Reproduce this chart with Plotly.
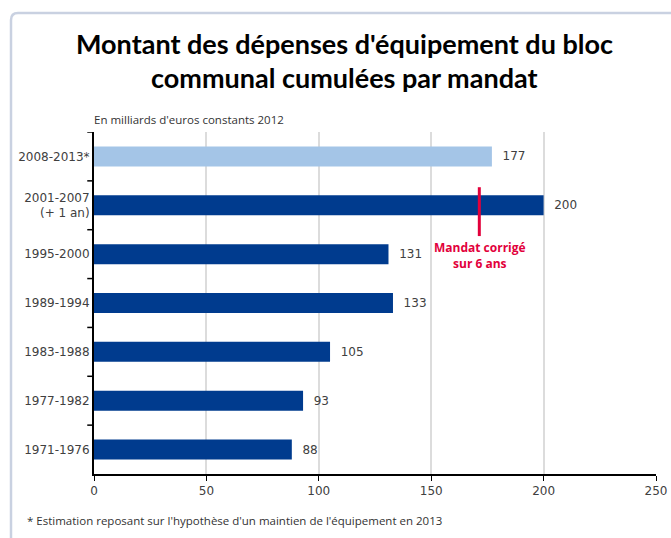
import plotly.graph_objects as go

categories = ["1971-1976", "1977-1982", "1983-1988", "1989-1994", "1995-2000",
              "2001-2007<br>(+ 1 an)", "2008-2013*"]
values = [88, 93, 105, 133, 131, 200, 177]
bar_colors = ["#003b8e", "#003b8e", "#003b8e", "#003b8e", "#003b8e", "#003b8e", "#a4c5e7"]
corrected_value = 171.4  # mandat corrigé sur 6 ans
x_ticks = [0, 50, 100, 150, 200, 250]

title_lines = ["Montant des dépenses d'équipement du bloc", "communal cumulées par mandat"]
subtitle = "En milliards d'euros constants 2012"
footnote = "* Estimation reposant sur l'hypothèse d'un maintien de l'équipement en 2013"
marker_label = "Mandat corrigé<br>sur 6 ans"

W, H = 671, 538
L, R, T, B = 94, 15, 132, 64
pw, ph = W - L - R, H - T - B

def px(x):
    return (x - L) / pw

def py(y):
    return (H - B - y) / ph

fig = go.Figure()
fig.add_trace(go.Bar(
    x=values, y=list(range(len(categories))), orientation="h",
    marker=dict(color=bar_colors, line=dict(width=0)),
    width=0.41,
    text=["  " + str(v) for v in values], textposition="outside",
    textfont=dict(family="DejaVu Sans", size=12, color="#404040"),
    cliponaxis=False, hoverinfo="skip",
))

font_main = "Open Sans, DejaVu Sans, sans-serif"
title_font = "Lato, Roboto, sans-serif"

r = 7
path = (f"M {px(11)},{py(H + 20)} L {px(11)},{py(13 + r)} "
        f"Q {px(11)},{py(13)} {px(11 + r)},{py(13)} L {px(W + 20)},{py(13)}")

fig.update_layout(
    width=W, height=H, autosize=False,
    margin=dict(l=L, r=R, t=T, b=B),
    paper_bgcolor="white", plot_bgcolor="white",
    showlegend=False,
    xaxis=dict(range=[0, 250], tickvals=x_ticks, showgrid=True, gridcolor="#dcdcdc", gridwidth=1.5,
               showline=True, linecolor="#000000", linewidth=2, zeroline=False, automargin=False,
               ticks="outside", ticklen=5, tickcolor="#000000", tickwidth=1,
               tickfont=dict(family="DejaVu Sans", size=12, color="#404040"), fixedrange=True),
    yaxis=dict(range=[-0.5, 6.5], tickvals=list(range(len(categories))), ticktext=categories,
               showgrid=False, showline=True, linecolor="#000000", linewidth=2,
               ticks="", zeroline=False, automargin=False,
               tickfont=dict(family="DejaVu Sans", size=12, color="#404040"), fixedrange=True),
    shapes=[
        dict(type="path", xref="paper", yref="paper", path=path,
             line=dict(color="#c9d1e1", width=2.5), layer="below"),
        dict(type="line", xref="x", yref="y", x0=corrected_value, x1=corrected_value,
             y0=5 - 0.63, y1=5 + 0.37, line=dict(color="#e2003b", width=3)),
    ] + [
        dict(type="line", xref="paper", yref="y", x0=-0.012, x1=0, y0=i - 0.5, y1=i - 0.5,
             line=dict(color="#000000", width=1.5))
        for i in range(1, len(categories) + 1)
    ],
    annotations=[
        dict(text=f"<b>{title_lines[0]}</b>", xref="paper", yref="paper", x=px(344), y=py(43.5),
             xanchor="center", yanchor="middle", showarrow=False,
             font=dict(family=title_font, size=27, color="#000000")),
        dict(text=f"<b>{title_lines[1]}</b>", xref="paper", yref="paper", x=px(344), y=py(77.5),
             xanchor="center", yanchor="middle", showarrow=False,
             font=dict(family=title_font, size=27, color="#000000")),
        dict(text=subtitle, xref="paper", yref="paper", x=px(92), y=py(119),
             xanchor="left", yanchor="middle", showarrow=False,
             font=dict(family=font_main, size=11.5, color="#333333")),
        dict(text=footnote, xref="paper", yref="paper", x=px(25), y=py(520),
             xanchor="left", yanchor="middle", showarrow=False,
             font=dict(family=font_main, size=11.5, color="#333333")),
        dict(text=f"<b>{marker_label}</b>", xref="x", yref="y", x=corrected_value + 0.5, y=3.98,
             xanchor="center", yanchor="middle", showarrow=False,
             font=dict(family=font_main, size=12, color="#e2003b")),
    ],
)

pre = "document.body.style.margin='0';document.body.style.overflow='hidden';"
fig.write_html(
    "out.html",
    config={"displayModeBar": False, "responsive": False},
    post_script=pre,
)
